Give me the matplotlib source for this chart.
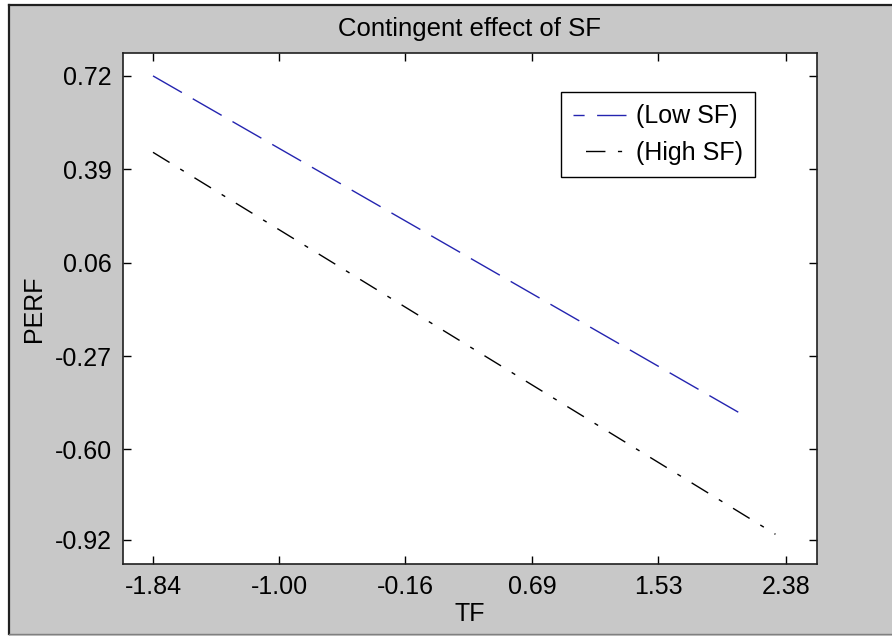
import matplotlib
matplotlib.use("Agg")
import matplotlib.pyplot as plt
from matplotlib.patches import Rectangle
from matplotlib.lines import Line2D

# ---- data ----
tf_low = [-1.84, 2.10]
perf_low = [0.72, -0.48]
tf_high = [-1.84, 2.31]
perf_high = [0.45, -0.90]

x_ticks = [-1.84, -1.00, -0.16, 0.69, 1.53, 2.38]
y_ticks = [-0.92, -0.60, -0.27, 0.06, 0.39, 0.72]

W, H = 892, 636
plt.rcParams['font.family'] = ['Liberation Sans', 'DejaVu Sans']

fig = plt.figure(figsize=(W / 100, H / 100), dpi=100, facecolor='white')

# grey window background with dark frame on the left/top
fig.patches.append(Rectangle((9 / W, 0), 1 - 9 / W, 1 - 5 / H, transform=fig.transFigure,
                             facecolor='#c8c8c8', edgecolor='none', zorder=-10))
fig.lines.append(Line2D([9 / W, 9 / W], [2 / H, 1 - 5 / H], transform=fig.transFigure,
                        color='#202020', lw=1.6))
fig.lines.append(Line2D([9 / W, 1], [1 - 5 / H, 1 - 5 / H], transform=fig.transFigure,
                        color='#202020', lw=1.6))
fig.lines.append(Line2D([9 / W, 1], [2 / H, 2 / H], transform=fig.transFigure,
                        color='#808080', lw=1.0))

ax = fig.add_axes([123 / W, 1 - 564 / H, (817 - 123) / W, (564 - 53) / H])
ax.set_facecolor('white')

ax.plot(tf_low, perf_low, color='#2424b0', lw=1.0, dashes=(24, 9), label='(Low SF)')
ax.plot(tf_high, perf_high, color='black', lw=1.0, dashes=(14, 9, 3, 9), label='(High SF)')

ax.set_xlim(-2.04, 2.587)
ax.set_ylim(-1.005, 0.801)
ax.set_xticks(x_ticks)
ax.set_xticklabels([f"{v:.2f}" for v in x_ticks])
ax.set_yticks(y_ticks)
ax.set_yticklabels([f"{v:.2f}" for v in y_ticks])

ax.tick_params(direction='in', length=6, width=1.0, top=True, right=True,
               labelsize=18, colors='black')
ax.tick_params(axis='x', pad=8)
ax.tick_params(axis='y', pad=8)
for s in ax.spines.values():
    s.set_linewidth(1.2)
    s.set_color('#202020')

ax.set_title('Contingent effect of SF', fontsize=18.5, pad=12)
ax.set_xlabel('TF', fontsize=18, labelpad=2)
ax.set_ylabel('PERF', fontsize=18, labelpad=6)

leg = ax.legend(loc='upper right', bbox_to_anchor=(0.911, 0.924), fontsize=18,
                frameon=True, fancybox=False, edgecolor='black', framealpha=1,
                handlelength=2.1, handletextpad=0.4, labelspacing=0.5,
                borderpad=0.5, borderaxespad=0)
leg.get_frame().set_linewidth(1.0)
# legend sample lines start part-way into the dash pattern, as in the original
leg.get_lines()[0].set_linestyle((16, (24, 9)))
leg.get_lines()[1].set_linestyle((26, (14, 9, 3, 9)))

fig.savefig('out.png', dpi=100, facecolor=fig.get_facecolor())
